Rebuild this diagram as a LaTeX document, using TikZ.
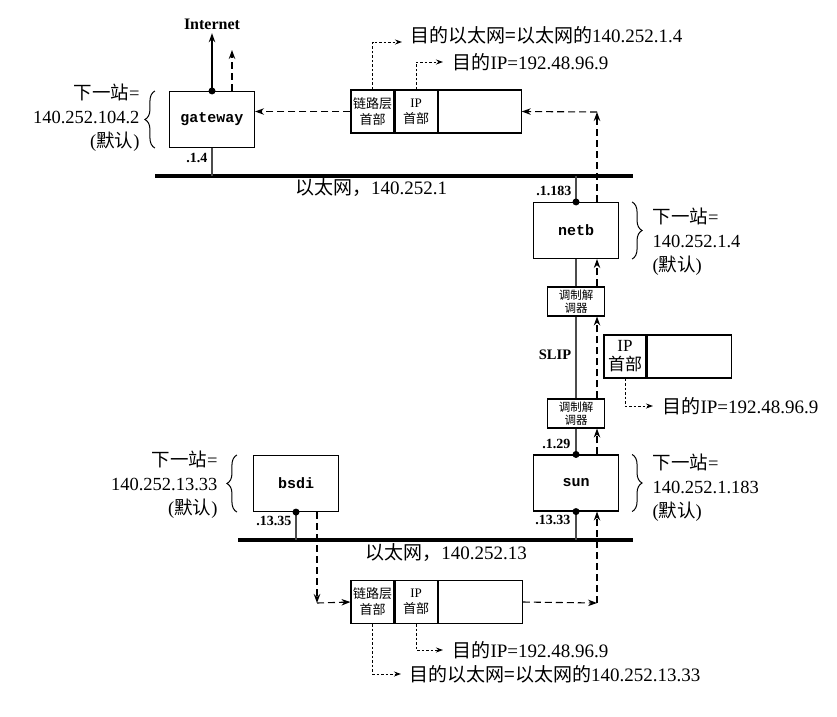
\documentclass[tikz,border=0pt]{standalone}
\usepackage{fontspec}
\setmainfont{Liberation Serif}
\setmonofont{Liberation Mono}
\newfontfamily\cjk{Noto Sans CJK SC}
\usetikzlibrary{positioning,arrows.meta,decorations.pathreplacing}
\newcommand{\zh}[1]{{\cjk #1}}

\begin{document}
\begin{tikzpicture}[x=1pt,y=-1pt,>={Stealth[length=9pt,width=6.5pt]},line width=1.1pt,
  host/.style={draw,minimum width=85pt,minimum height=56pt,font=\fontsize{15}{15}\selectfont\ttfamily\bfseries},
  modem/.style={draw,minimum width=57pt,minimum height=29pt,inner sep=0pt,align=center,
    font=\fontsize{11.5}{12.5}\selectfont\cjk},
  cell/.style={draw,minimum height=43pt,inner sep=0pt,align=center,font=\fontsize{13}{16}\selectfont\cjk},
  addr/.style={font=\fontsize{14}{14}\selectfont\bfseries,inner sep=1pt},
  txt/.style={font=\fontsize{19}{19}\selectfont,inner sep=0pt},
  nxt/.style={font=\fontsize{18.5}{24}\selectfont,inner sep=0pt},
  dst/.style={font=\fontsize{19}{19}\selectfont,inner ysep=0pt,inner xsep=8pt},
  link/.style={draw=black!70},
  lan/.style={line width=4pt},
  pkt/.style={->,dash pattern=on 7pt off 4pt},
  hdr/.style={line width=1pt,dash pattern=on 2.5pt off 2pt,-{Stealth[length=7pt,width=5pt]}},
  brc/.style={decorate,decoration={brace,amplitude=10pt},line width=1pt}]
  \useasboundingbox (0,0) rectangle (837,716);

  % hosts
  \node[host] (gw) at (212,119.5) {gateway};
  \node[host] (netb) at (576,230.5) {netb};
  \node[host] (sun) at (576,483) {sun};
  \node[host] (bsdi) at (296,483.5) {bsdi};
  \node[modem] (m1) at (576,301.5) {调制解\\调器};
  \node[modem] (m2) at (576,413.5) {调制解\\调器};
  \node[font=\fontsize{16}{16}\selectfont\bfseries] (inet) at (212,24) {Internet};

  % ethernets
  \coordinate (lanA) at (155,176);
  \coordinate (lanB) at (633,176);
  \coordinate (lanC) at (238,540);
  \coordinate (lanD) at (633,540);
  \draw[lan] (lanA) -- (lanB);
  \draw[lan] (lanC) -- (lanD);
  \node[txt] (e1lbl) at (371,188) {\zh{以太网，}140.252.1};
  \node[txt] (e2lbl) at (446,553) {\zh{以太网，}140.252.13};
  \node[font=\fontsize{14.5}{14.5}\selectfont\bfseries] (slip) at (555,355) {SLIP};

  % links
  \draw[link] (gw.south) -- (gw.south |- lanA);
  \draw[link] (netb.north) -- (netb.north |- lanA);
  \draw[link] (netb.south) -- (m1.north);
  \draw[link] (m1.south) -- (m2.north);
  \draw[link] (m2.south) -- (sun.north);
  \draw[link] (sun.south) -- (sun.south |- lanC);
  \draw[link] (bsdi.south) -- (bsdi.south |- lanC);
  \draw[->] (gw.north) -- (inet.south);
  \foreach \p in {gw.north,netb.north,sun.north,sun.south,bsdi.south}
    \fill (\p) circle (3.5pt);

  % interface addresses
  \node[addr,anchor=east] (a14) at (209,158) {.1.4};
  \node[addr,anchor=east] (a1183) at (573,191) {.1.183};
  \node[addr,anchor=east] (a129) at (572,444) {.1.29};
  \node[addr,anchor=east] (a1333) at (572,520) {.13.33};
  \node[addr,anchor=east] (a1335) at (293,521) {.13.35};

  % next hops
  \draw[brc] ([xshift=-14pt]gw.south west) -- ([xshift=-14pt]gw.north west);
  \node[nxt,align=right,anchor=east] (gwnh) at (140,118) {\zh{下一站}=\\140.252.104.2\\(\zh{默认})};
  \draw[brc] ([xshift=13pt]netb.north east) -- ([xshift=13pt]netb.south east);
  \node[nxt,align=left,anchor=west] (netbnh) at (652,242) {\zh{下一站}=\\140.252.1.4\\(\zh{默认})};
  \draw[brc] ([xshift=13pt]sun.north east) -- ([xshift=13pt]sun.south east);
  \node[nxt,align=left,anchor=west] (sunnh) at (652,488) {\zh{下一站}=\\140.252.1.183\\(\zh{默认})};
  \draw[brc] ([xshift=-16pt]bsdi.south west) -- ([xshift=-16pt]bsdi.north west);
  \node[nxt,align=right,anchor=east] (bsdinh) at (218,485) {\zh{下一站}=\\140.252.13.33\\(\zh{默认})};

  % frame on 140.252.1
  \node[cell,minimum width=43pt] (a1) at (372.5,111.5) {链路层\\首部};
  \node[cell,minimum width=42pt,right=0pt of a1] (a2) {{\rmfamily IP}\\首部};
  \node[cell,minimum width=83pt,right=0pt of a2] (a3) {};
  \node[dst,anchor=west] (ae) at (402,35) {\zh{目的以太网=以太网的}140.252.1.4};
  \node[dst,anchor=west,inner xsep=9pt] (ai) at (443,62) {\zh{目的}IP=192.48.96.9};
  \draw[hdr] (a1.north) |- ([yshift=-7pt]ae.west);
  \draw[hdr] (a2.north) |- (ai.west);

  % datagram on SLIP
  \node[cell,minimum width=42pt,font=\fontsize{17}{19}\selectfont\cjk] (s1) at (625,356.5) {{\rmfamily IP}\\首部};
  \node[cell,minimum width=84pt,right=0pt of s1] (s2) {};
  \node[dst,anchor=west,inner xsep=9pt] (si) at (653,406) {\zh{目的}IP=192.48.96.9};
  \draw[hdr] (s1.south) |- (si.west);

  % frame on 140.252.13
  \node[cell,minimum width=43pt] (b1) at (372.5,602) {链路层\\首部};
  \node[cell,minimum width=42pt,right=0pt of b1] (b2) {{\rmfamily IP}\\首部};
  \node[cell,minimum width=84pt,right=0pt of b2] (b3) {};
  \node[dst,anchor=west,inner xsep=9pt] (bi) at (443,650) {\zh{目的}IP=192.48.96.9};
  \node[dst,anchor=west] (be) at (401,674) {\zh{目的以太网=以太网的}140.252.13.33};
  \draw[hdr] (b2.south) |- (bi.west);
  \draw[hdr] (b1.south) |- (be.west);

  % path of the datagram
  \coordinate (up) at (232,50);
  \coordinate (c1) at (597,112);
  \coordinate (c2) at (317,603);
  \coordinate (c3) at (597,603);
  \draw[pkt] ([xshift=21pt]bsdi.south) -- (c2);
  \draw[pkt] (c2) -- (b1.west);
  \draw[pkt] (b3.east) -- (c3);
  \draw[pkt] (c3) -- ([xshift=21pt]sun.south);
  \draw[pkt] ([xshift=21pt]sun.north) -- ([xshift=21pt]m2.south);
  \draw[pkt] ([xshift=21pt]m2.north) -- ([xshift=21pt]m1.south);
  \draw[pkt] ([xshift=21pt]m1.north) -- ([xshift=21pt]netb.south);
  \draw[pkt] ([xshift=21pt]netb.north) -- (c1);
  \draw[pkt] (c1) -- (a3.east);
  \draw[pkt] (a1.west) -- (gw.east |- a1.west);
  \draw[pkt] ([xshift=20pt]gw.north) -- (up);
\end{tikzpicture}
\end{document}
